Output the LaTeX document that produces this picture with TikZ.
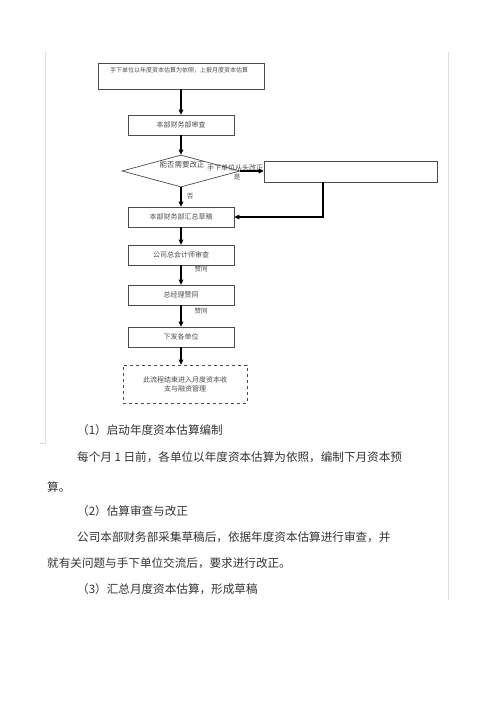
\documentclass[tikz,border=0pt]{standalone}
\usepackage{fontspec}
\setmainfont{Noto Sans CJK SC}
\usetikzlibrary{shapes.geometric,arrows.meta}
\begin{document}
\begin{tikzpicture}[x=1pt,y=-1pt,
  flowbox/.style={draw=black!70, line width=0.7pt, minimum width=106pt, minimum height=20pt, inner sep=0pt, font=\fontsize{7}{9}\selectfont, text=black!70},
  tinytext/.style={inner sep=0pt, font=\fontsize{6.5}{8}\selectfont, text=black!70},
  arr/.style={-{Triangle[length=5pt,width=4.5pt]}, line width=1.1pt, black},
  body/.style={anchor=west, inner sep=0pt, font=\fontsize{11.6}{14}\selectfont, text=black!80},
  sideline/.style={draw=black!13, line width=0.9pt}]
\useasboundingbox (0,0) rectangle (500,707);
\fill[white] (0,0) rectangle (500,707);
% side rules
\draw[sideline] (45,52) -- (45,443) -- (40,443);
\draw[sideline] (448,52) -- (448,600);
% flow nodes
\node[flowbox, minimum width=166pt, minimum height=26pt] (top) at (181,76) {};
\node[tinytext, anchor=west, font=\fontsize{6}{7}\selectfont] (toptext) at (110,70) {手下单位以年度资本估算为依照，上报月度资本估算};
\node[flowbox] (b1) at (181,125) {本部财务部审查};
\node[diamond, draw=black!70, line width=0.7pt, minimum width=118pt, minimum height=32pt, inner sep=0pt] (d) at (181,171) {};
\node[flowbox, minimum width=173pt, minimum height=21pt] (rb) at (350.5,171.5) {};
\node[flowbox] (b2) at (181,217) {本部财务部汇总草稿};
\node[flowbox] (b3) at (181,255) {公司总会计师审查};
\node[flowbox] (b4) at (181,295) {总经理赞同};
\node[flowbox] (b5) at (181,337) {下发各单位};
\node[flowbox, dashed, minimum width=124pt, minimum height=38pt, align=center] (end) at (185,384) {此流程结束进入月度资本收\\支与融资管理};
% labels
\node[tinytext, font=\fontsize{7.5}{9}\selectfont] (dq) at (182,165) {能否需要改正};
\node[tinytext, font=\fontsize{7}{9}\selectfont] (yes1) at (235,168) {手下单位从头改正};
\node[tinytext] (yes2) at (237,177) {是};
\node[tinytext] (no) at (190,196) {否};
\node[tinytext] (ok1) at (201,269) {赞同};
\node[tinytext] (ok2) at (201,311) {赞同};
% connectors
\draw[arr] (top) -- (b1);
\draw[arr] (b1) -- (d);
\draw[arr] (d) -- (b2);
\draw[arr] (d.east) -- (rb.west |- d.east);
\draw[arr] ([xshift=-27.5pt]rb.south) |- (b2.east);
\draw[arr] (b2) -- (b3);
\draw[arr] (b3) -- (b4);
\draw[arr] (b4) -- (b5);
\draw[arr] (b5) -- (b5 |- end.north);
% body text
\node[body] (t1) at (77,430) {（1）启动年度资本估算编制};
\node[body] (t2) at (77,457) {每个月 1 日前，各单位以年度资本估算为依照，编制下月资本预};
\node[body] (t3) at (47,487) {算。};
\node[body] (t4) at (77,511) {（2）估算审查与改正};
\node[body] (t5) at (77,537) {公司本部财务部采集草稿后，依据年度资本估算进行审查，并};
\node[body] (t6) at (47,563) {就有关问题与手下单位交流后，要求进行改正。};
\node[body] (t7) at (77,589) {（3）汇总月度资本估算，形成草稿};
\end{tikzpicture}
\end{document}
